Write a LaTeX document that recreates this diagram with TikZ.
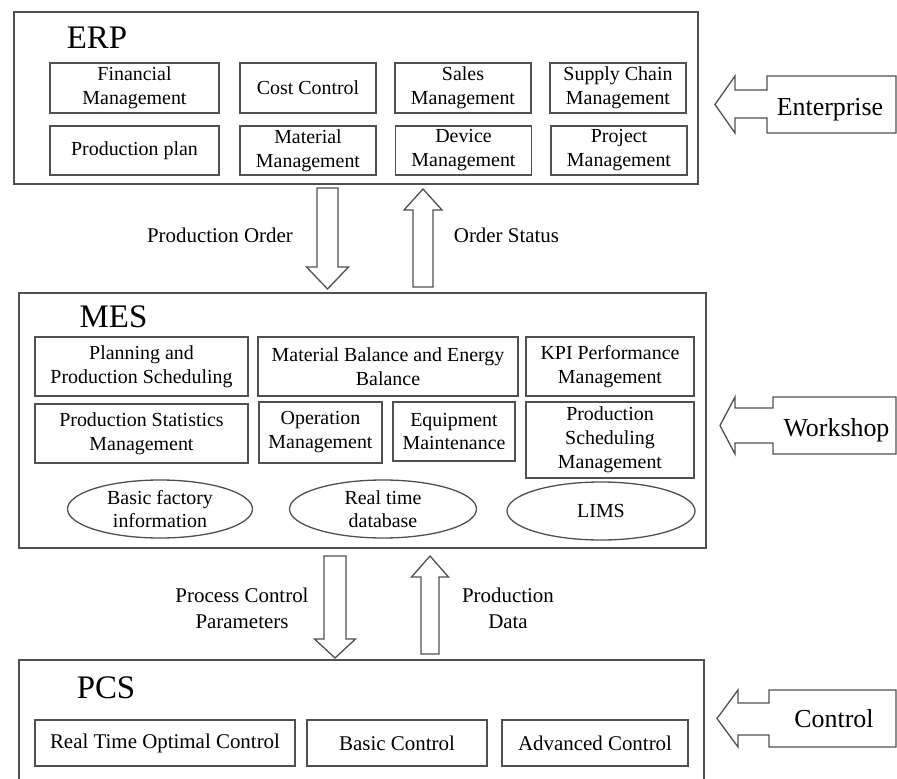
\documentclass[tikz,border=0pt]{standalone}
\usepackage{fontspec}
\setmainfont{Liberation Serif}
\usetikzlibrary{shapes.geometric,calc}
\definecolor{linec}{HTML}{505050}
% block arrow: #1 start coord, #2 tip coord, #3 shaft half width, #4 head half width, #5 head length
\newcommand\blockarrow[5]{%
  \path ($(#2)!#5!(#1)$) coordinate (hb);
  \draw[arrowline] ($(#1)!#3!90:(#2)$) -- ($(hb)!#3!90:(#2)$) -- ($(hb)!#4!90:(#2)$) -- (#2)
    -- ($(hb)!#4!-90:(#2)$) -- ($(hb)!#3!-90:(#2)$) -- ($(#1)!#3!-90:(#2)$) -- cycle;}
\begin{document}
\begin{tikzpicture}[x=1bp,y=-1bp,
  outerbox/.style={draw=linec, line width=1.6bp, inner sep=0pt},
  modbox/.style={draw=linec, line width=1.3bp, align=center, inner sep=0pt, font=\fontsize{20}{24}\selectfont},
  pcsbox/.style={modbox, font=\fontsize{21}{24}\selectfont},
  modell/.style={modbox, ellipse, font=\fontsize{20}{23}\selectfont},
  title/.style={font=\fontsize{33}{36}\selectfont, inner sep=0pt},
  flowlabel/.style={align=center, font=\fontsize{21}{26}\selectfont, inner sep=0pt},
  calltext/.style={font=\fontsize{26}{30}\selectfont, inner sep=0pt, anchor=base},
  arrowline/.style={draw=linec, line width=1.3bp, fill=white, line join=miter},
]
\useasboundingbox (0,0) rectangle (897,779);
\clip (0,0) rectangle (897,779);
\fill[white] (0,0) rectangle (897,779);

% ---------- ERP ----------
\node[outerbox, minimum width=684bp, minimum height=172bp] (erp) at (356,98) {};
\node[title] (erpt) at (97,38) {ERP};
\node[modbox, minimum width=169bp, minimum height=50bp] (fin) at (134.5,88) {Financial\\Management};
\node[modbox, minimum width=136bp, minimum height=50bp] (cost) at (308,88) {Cost Control};
\node[modbox, minimum width=136bp, minimum height=50bp] (sales) at (463,88) {Sales\\Management};
\node[modbox, minimum width=136bp, minimum height=50bp] (scm) at (618,88) {Supply Chain\\Management};
\node[modbox, minimum width=169bp, minimum height=49bp] (pplan) at (134.5,150.5) {Production plan};
\node[modbox, minimum width=136bp, minimum height=49bp] (mat) at (308,150.5) {Material\\Management};
\node[modbox, minimum width=136bp, minimum height=49bp] (dev) at (463.5,150.5) {Device\\Management};
\node[modbox, minimum width=136bp, minimum height=49bp] (proj) at (619,150.5) {Project\\Management};

% ---------- MES ----------
\node[outerbox, minimum width=687bp, minimum height=255bp] (mes) at (362.5,420.5) {};
\node[title] (mest) at (113.5,316.5) {MES};
\node[modbox, minimum width=213bp, minimum height=59bp] (pps) at (141.5,366.5) {Planning and\\Production Scheduling};
\node[modbox, minimum width=260bp, minimum height=59bp] (mbeb) at (388,366.5) {Material Balance and Energy\\Balance};
\node[modbox, minimum width=168bp, minimum height=59bp] (kpi) at (610,366.5) {KPI Performance\\Management};
\node[modbox, minimum width=213bp, minimum height=59bp] (psm) at (141.5,433.5) {Production Statistics\\Management};
\node[modbox, minimum width=123bp, minimum height=61bp] (om) at (320.5,432.5) {Operation\\Management};
\node[modbox, minimum width=122bp, minimum height=59bp] (em) at (454,431.5) {Equipment\\Maintenance};
\node[modbox, minimum width=168bp, minimum height=76bp] (psch) at (610,440) {Production\\Scheduling\\Management};
\node[modell, minimum width=185bp, minimum height=58bp] (bfi) at (160,509) {Basic factory\\information};
\node[modell, minimum width=187bp, minimum height=58bp] (rtd) at (383,509) {Real time\\database};
\node[modell, minimum width=188bp, minimum height=58bp] (lims) at (601,511) {LIMS};

% ---------- PCS ----------
\node[outerbox, minimum width=685bp, minimum height=160bp] (pcs) at (361.5,740) {};
\node[title] (pcst) at (106,688) {PCS};
\node[pcsbox, minimum width=260bp, minimum height=46bp] (rtoc) at (165,743) {Real Time Optimal Control};
\node[pcsbox, minimum width=180bp, minimum height=46bp] (bc) at (397,743) {Basic Control};
\node[pcsbox, minimum width=186bp, minimum height=46bp] (ac) at (595,743) {Advanced Control};

% ---------- vertical flows ----------
\coordinate (po1) at (327.5,188);
\coordinate (po2) at (327.5,289);
\coordinate (os1) at (423,287);
\coordinate (os2) at (423,189);
\coordinate (pc1) at (335,556);
\coordinate (pc2) at (335,658);
\coordinate (pd1) at (430,654);
\coordinate (pd2) at (430,556);
\blockarrow{po1}{po2}{10.5bp}{21bp}{22bp}
\blockarrow{os1}{os2}{10bp}{19bp}{21bp}
\blockarrow{pc1}{pc2}{11bp}{20.5bp}{19bp}
\blockarrow{pd1}{pd2}{9bp}{18.5bp}{21bp}

\node[flowlabel] (pol) at (220,235) {Production Order};
\node[flowlabel] (osl) at (506.5,235) {Order Status};
\node[flowlabel] (pcl) at (242,608) {Process Control\\Parameters};
\node[flowlabel] (pdl) at (508,608) {Production\\Data};

% ---------- level callouts ----------
\draw[arrowline] (715,104.5) -- (735,76) -- (735,90) -- (767,90) -- (767,76) -- (896,76)
  -- (896,133) -- (767,133) -- (767,118) -- (735,118) -- (735,133) -- cycle;
\node[calltext] (ent) at (830,115) {Enterprise};

\draw[arrowline] (720,425.5) -- (735,397) -- (735,408) -- (773,408) -- (773,397) -- (896,397)
  -- (896,454) -- (773,454) -- (773,443) -- (735,443) -- (735,454) -- cycle;
\node[calltext] (ws) at (836.5,436) {Workshop};

\draw[arrowline] (717,718.5) -- (738,690) -- (738,703) -- (769,703) -- (769,690) -- (896,690)
  -- (896,747) -- (769,747) -- (769,735) -- (738,735) -- (738,747) -- cycle;
\node[calltext] (ctl) at (834,727) {Control};
\end{tikzpicture}
\end{document}
